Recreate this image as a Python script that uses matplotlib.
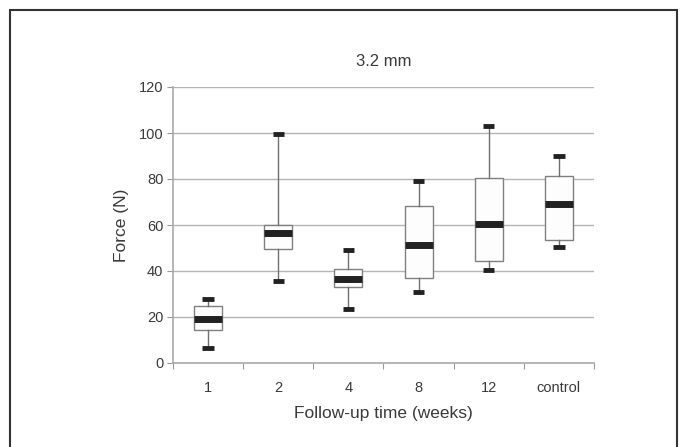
import matplotlib
matplotlib.use("Agg")
import matplotlib.pyplot as plt
from matplotlib.patches import Rectangle

categories = ["1", "2", "4", "8", "12", "control"]
whisker_low = [6.5, 35.6, 23.5, 30.9, 40.6, 50.3]
q1 = [14.3, 49.4, 32.9, 37.0, 44.2, 53.3]
median = [19.0, 56.4, 36.7, 51.2, 60.6, 69.0]
q3 = [24.9, 60.1, 40.7, 68.3, 80.6, 81.3]
whisker_high = [27.7, 99.6, 49.1, 79.1, 103.0, 90.0]
yticks = [0, 20, 40, 60, 80, 100, 120]

plt.rcParams['font.family'] = ['Liberation Sans', 'DejaVu Sans']
W, H = 680, 447
fig = plt.figure(figsize=(W/100, H/100), dpi=100)
fig.patch.set_facecolor('white')

# outer frame
fig.patches.append(Rectangle((10/W, -0.05), (677-10)/W, 1.05 - 10/H,
                             transform=fig.transFigure, fill=False,
                             edgecolor='#333333', linewidth=1.5))

left, right, top, bottom = 173, 594, 87, 363
ax = fig.add_axes([left/W, 1-bottom/H, (right-left)/W, (bottom-top)/H])

stats = []
for i, c in enumerate(categories):
    stats.append(dict(label=c, whislo=whisker_low[i], q1=q1[i], med=median[i],
                      q3=q3[i], whishi=whisker_high[i], fliers=[]))
pos = list(range(len(categories)))
ax.bxp(stats, positions=pos, widths=0.4, showfliers=False, patch_artist=True,
       boxprops=dict(facecolor='#fdfdfd', edgecolor='#808080', linewidth=1.0),
       medianprops=dict(color='#222222', linewidth=5, solid_capstyle='butt'),
       whiskerprops=dict(color='#707070', linewidth=1.0),
       capprops=dict(color='#222222', linewidth=3.5, solid_capstyle='butt'),
       capwidths=0.16, zorder=3)

ax.set_xlim(-0.5, len(categories) - 0.5)
ax.set_ylim(0, 120)
ax.set_yticks(yticks)
ax.set_yticklabels([str(v) for v in yticks])
ax.yaxis.grid(True, color='#b5b5b5', linewidth=1.0)
ax.set_axisbelow(True)

# x ticks at category boundaries, labels at centers
ax.set_xticks([p - 0.5 for p in pos] + [len(pos) - 0.5])
ax.set_xticklabels([])
ax.set_xticks(pos, minor=True)
ax.set_xticklabels(categories, minor=True)
ax.tick_params(axis='x', which='minor', length=0, pad=13, labelsize=10.5, labelcolor='#3a3a3a')
ax.tick_params(axis='x', which='major', length=4, color='#999999')
ax.tick_params(axis='y', length=4, color='#999999', labelsize=10.5, labelcolor='#3a3a3a', pad=3)

for s in ['top', 'right']:
    ax.spines[s].set_visible(False)
for s in ['left', 'bottom']:
    ax.spines[s].set_color('#aaaaaa')
    ax.spines[s].set_linewidth(1.2)

ax.set_ylabel("Force (N)", fontsize=12.5, color='#3a3a3a', labelpad=7)
ax.set_xlabel("Follow-up time (weeks)", fontsize=12.5, color='#3a3a3a', labelpad=8)
ax.set_title("3.2 mm", fontsize=12, color='#3a3a3a', pad=15)

fig.savefig("out.png", dpi=100)
